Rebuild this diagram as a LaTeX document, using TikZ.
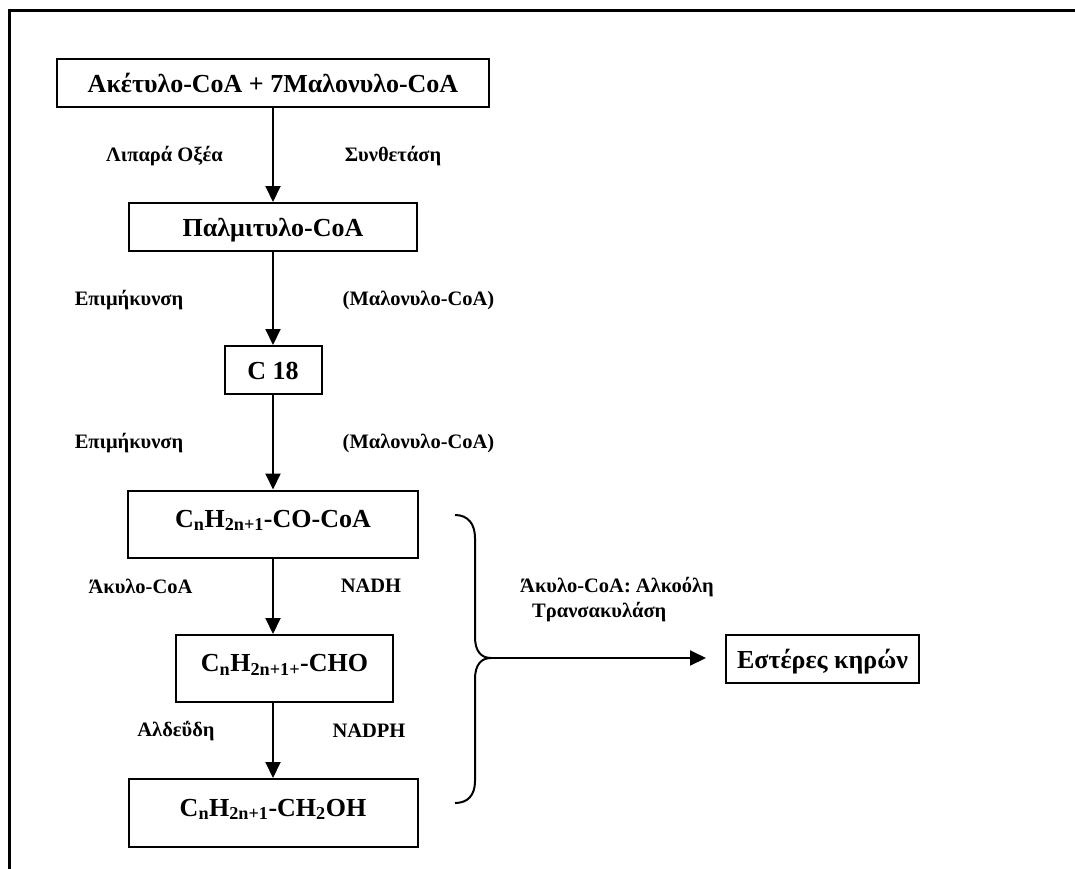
\documentclass[tikz,border=0pt]{standalone}
\usepackage{fontspec}
\setmainfont{Liberation Serif}
\usetikzlibrary{arrows.meta,positioning}

\begin{document}
\begin{tikzpicture}[x=1pt,y=-1pt,
  stage/.style={draw,line width=2pt,inner sep=0pt,font=\fontsize{26}{30}\selectfont\bfseries,text height=19pt,text depth=0pt},
  chain/.style={stage,text height=18pt,text depth=12pt},
  note/.style={font=\fontsize{20.5}{25}\selectfont\bfseries,inner sep=0pt},
  flow/.style={line width=2pt,-{Triangle[width=15pt,length=16pt]}}
]
\useasboundingbox (0,0) rectangle (1075,869);
\draw[line width=3pt] (1075,11) -- (9,11) -- (9,869);

\node[stage,minimum width=432pt,minimum height=48pt] (acetyl) at (273,83) {Ακέτυλο-CoA + 7Μαλονυλο-CoA};
\node[stage,minimum width=288pt,minimum height=48pt] (palmityl) at (273,227) {Παλμιτυλο-CoA};
\node[stage,minimum width=97pt,minimum height=48pt] (c18) at (273,370) {C 18};
\node[chain,minimum width=290pt,minimum height=67pt] (acyl) at (273,524) {C\textsubscript{n}H\textsubscript{2n+1}-CO-CoA};
\node[chain,minimum width=217pt,minimum height=67pt] (ald) at (284.5,668.5) {C\textsubscript{n}H\textsubscript{2n+1+}-CHO};
\node[chain,minimum width=289pt,minimum height=68pt] (alc) at (273,813) {C\textsubscript{n}H\textsubscript{2n+1}-CH\textsubscript{2}OH};
\node[stage,minimum width=193pt,minimum height=48pt] (wax) at (822.5,659) {Εστέρες κηρών};

\node[note] (fas1) at (164.5,156) {Λιπαρά Οξέα};
\node[note] (fas2) at (393,156) {Συνθετάση};
\node[note] (elong1) at (129,300) {Επιμήκυνση};
\node[note] (malonyl1) at (418.5,300) {(Μαλονυλο-CoA)};
\node[note] (elong2) at (129,443) {Επιμήκυνση};
\node[note] (malonyl2) at (418.5,443) {(Μαλονυλο-CoA)};
\node[note] (red1) at (140.5,586) {Άκυλο-CoA};
\node[note] (nadh) at (371,586) {NADH};
\node[note] (red2) at (176,731) {Αλδεΰδη};
\node[note] (nadph) at (369,731) {NADPH};
\node[note,align=left,anchor=west] (transacyl) at (520,600) {Άκυλο-CoA: Αλκοόλη\\\hspace*{12pt}Τρανσακυλάση};

\draw[flow] (acetyl) -- (palmityl);
\draw[flow] (palmityl) -- (c18);
\draw[flow] (c18) -- (acyl);
\draw[flow] (acyl.south) -- (acyl.south |- ald.north);
\draw[flow] (acyl.south |- ald.south) -- (alc);

\coordinate (cusp) at (491,658);
\draw[line width=2pt] (455,515) .. controls (468,515) and (475,524) .. (475,538) -- (475,637)
  .. controls (475,651) and (481,658) .. (cusp) .. controls (481,658) and (475,665) .. (475,679)
  -- (475,781) .. controls (475,795) and (468,803) .. (455,803);
\draw[flow,shorten >=19pt] (cusp) -- (cusp -| wax.west);
\end{tikzpicture}
\end{document}
